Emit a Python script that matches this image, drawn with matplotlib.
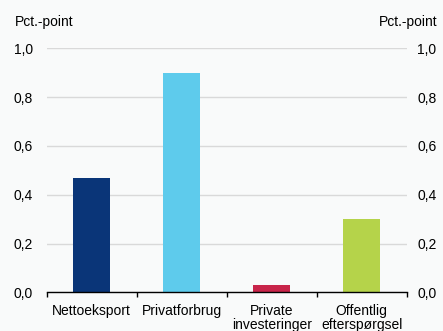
import matplotlib
matplotlib.use("Agg")
import matplotlib.pyplot as plt
from matplotlib.ticker import FuncFormatter, FixedLocator

categories = ["Nettoeksport", "Privatforbrug", "Private\ninvesteringer", "Offentlig\nefterspørgsel"]
values = [0.47, 0.90, 0.03, 0.30]
colors = ["#0a3578", "#5ecbec", "#c8254a", "#b5d34a"]
yticks = [0.0, 0.2, 0.4, 0.6, 0.8, 1.0]
unit_label = "Pct.-point"

plt.rcParams['font.family'] = ['Liberation Sans', 'DejaVu Sans']
bg = "#f9fafa"
fs = 10

fig = plt.figure(figsize=(4.43, 3.31), dpi=100, facecolor=bg)
ax = fig.add_axes([46.7/443, 38.7/331, 360/443, (292.3-48.3)/331], facecolor=bg)

x = list(range(len(categories)))
ax.bar(x, values, width=0.41, color=colors, zorder=3)

fmt = FuncFormatter(lambda v, p: f"{v:.1f}".replace(".", ","))
ax.set_xlim(-0.5, len(categories) - 0.5)
ax.set_ylim(0, 1.0)
ax.yaxis.set_major_locator(FixedLocator(yticks))
ax.yaxis.set_major_formatter(fmt)
ax.grid(axis='y', color="#d9d9d9", linewidth=1.0, zorder=0)
ax.tick_params(axis='y', length=0, pad=10, labelsize=fs, labelcolor="#000000",
               left=False, labelleft=True)

ax2 = ax.twinx()
ax2.set_ylim(0, 1.0)
ax2.yaxis.set_major_locator(FixedLocator(yticks))
ax2.yaxis.set_major_formatter(fmt)
ax2.tick_params(axis='y', length=0, pad=7.5, labelsize=fs, labelcolor="#000000")

for a in (ax, ax2):
    for s in ["top", "left", "right"]:
        a.spines[s].set_visible(False)
ax2.spines["bottom"].set_visible(False)
ax.spines["bottom"].set_color("#000000")
ax.spines["bottom"].set_linewidth(1.0)
ax.spines["bottom"].set_zorder(4)

ax.set_xticks(x)
ax.set_xticklabels(categories, fontsize=fs, linespacing=1.0)
ax.tick_params(axis='x', length=0, pad=8.5)
ax.set_xticks([i - 0.5 for i in range(len(categories) + 1)], minor=True)
ax.tick_params(axis='x', which='minor', length=3.5, width=1.0, color="#000000", direction='out')

fig.text(15/443, 1 - 22/331, unit_label, fontsize=fs, ha='left', va='center')
fig.text(437/443, 1 - 22/331, unit_label, fontsize=fs, ha='right', va='center')

fig.savefig("out.png", dpi=100, facecolor=bg)
